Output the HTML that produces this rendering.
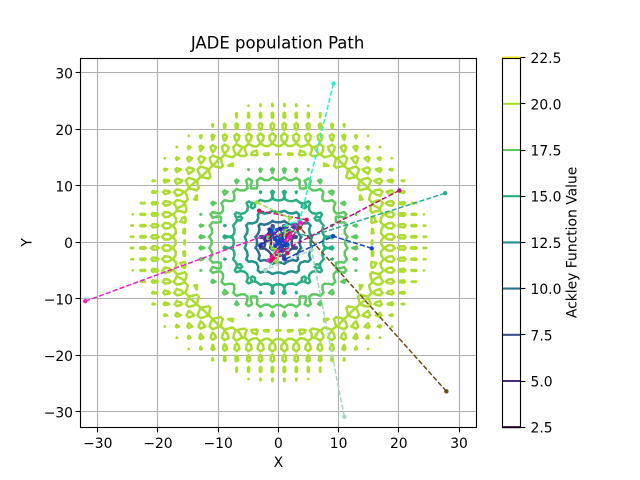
<!DOCTYPE html>
<html>
<head>
<meta charset="utf-8">
<title>JADE population Path</title>
<style>
html,body{margin:0;padding:0;background:#fff;width:640px;height:480px;overflow:hidden}
svg{display:block}
text{font-family:"DejaVu Sans","Liberation Sans",sans-serif;fill:#000}
</style>
</head>
<body>
<svg id="chart" width="640" height="480" viewBox="0 0 640 480" xmlns="http://www.w3.org/2000/svg">
  <defs>
    <clipPath id="plot-clip"><rect x="80" y="58" width="397" height="369"></rect></clipPath>
  </defs>
  <rect x="0" y="0" width="640" height="480" fill="#fff"></rect>
  <g id="grid"></g>
  <g id="contours" clip-path="url(#plot-clip)"></g>
  <g id="paths" clip-path="url(#plot-clip)"></g>
  <g id="axes"></g>
  <g id="cbar"></g>
  <text x="277.6" y="48.5" font-size="16.5" text-anchor="middle">JADE population Path</text>
  <text x="278.4" y="467" font-size="13.89" text-anchor="middle">X</text>
  <text transform="translate(31.5,242.4) rotate(-90)" font-size="13.89" text-anchor="middle">Y</text>
  <text transform="translate(576.5,242.4) rotate(-90)" font-size="13.89" text-anchor="middle">Ackley Function Value</text>
</svg>
<script>
const xTicks = [-30, -20, -10, 0, 10, 20, 30];
const yTicks = [-30, -20, -10, 0, 10, 20, 30];
const contourLevels = [2.5, 5, 7.5, 10, 12.5, 15, 17.5, 20, 22.5];
const levelColors = ['#440154', '#472d7b', '#3b528b', '#2c728e', '#21918c', '#28ae80', '#5ec962', '#addc30', '#fde725'];
const gridBound = 32.768;
const gridCount = 100;

const paleX = [10.95, 5.5, -2.2, 1.5, -0.6, 0.3, 0];
const paleY = [-30.85, -1.3, -4.9, -1.2, 1.0, -0.3, 0.1];
const tealX = [27.7, 5.1, 1.2, -1.0, 0.6, 0.1];
const tealY = [8.7, 1.0, 2.4, -1.1, 0.4, 0];
const oliveX = [27.9, 3.6, 0.5, -1.4, 0.4, -0.1];
const oliveY = [-26.35, 2.6, 0.9, 1.3, -0.5, 0.1];
const cyanX = [9.15, 3.6, -0.9, 1.6, -0.4, 0.2];
const cyanY = [28.1, 4.0, 2.2, -0.6, 0.9, -0.1];
const darkPinkX = [20.1, -1.1, 1.8, -2.0, 0.8, -0.2];
const darkPinkY = [9.2, -2.5, 1.6, 0.5, -1.3, 0.2];
const magentaX = [-32.07, 3.6, -1.6, 1.9, -0.8, 0.4, 0];
const magentaY = [-10.4, 3.5, -3.2, 0.9, 1.5, -0.6, 0];
const crimsonX = [-3.2, 4.7, -1.1, 1.5, -1.0, 0.5, 0.1];
const crimsonY = [5.6, 4.0, -3.1, -1.9, 1.2, -0.5, 0.1];
const greenX = [-3.6, 1.9, -0.3, -1.7, 1.3, -0.6, 0.2];
const greenY = [7.1, 4.3, -3.4, 0.8, 2.0, -1.1, -0.1];
const slateX = [-3.0, 2.6, -1.5, 0.7, 0.1];
const slateY = [-0.5, 2.7, 2.3, -1.5, 0.2];
const navyX = [-1.4, -3.0, 0.3, 1.2, 0.4, 0.2];
const navyY = [2.2, -0.6, 2.4, -0.5, 0.5, 0];
const blueX = [15.5, 9.1, 1.1, -1.2, 1.5, 0.2, 0.7, -0.6, 0.6, -0.5, 0.25];
const blueY = [-1.05, 1.1, -3.0, 1.9, -0.4, 0.3, -0.6, 0.6, 0.6, -0.6, 0];

const seriesNames = ['pale', 'teal', 'olive', 'cyan', 'dark-pink', 'magenta', 'crimson', 'green', 'slate', 'navy', 'blue'];
const seriesXs = [paleX, tealX, oliveX, cyanX, darkPinkX, magentaX, crimsonX, greenX, slateX, navyX, blueX];
const seriesYs = [paleY, tealY, oliveY, cyanY, darkPinkY, magentaY, crimsonY, greenY, slateY, navyY, blueY];
const seriesColors = ['#a3d6c6', '#28ad90', '#6b4e12', '#1ff5d0', '#c0107c', '#f01fc4', '#d4145f', '#8fe33c', '#3d4aa0', '#2a2fa8', '#1646c4'];

const NS = 'http://www.w3.org/2000/svg';
const plotLeft = 80, plotRight = 476.8, plotTop = 57.6, plotBottom = 427.2;
const xHalf = 32.95, yHalf = 32.7;
function xScale(v) { return (plotLeft + plotRight) / 2 + v * (plotRight - plotLeft) / (2 * xHalf); }
function yScale(v) { return (plotTop + plotBottom) / 2 - v * (plotBottom - plotTop) / (2 * yHalf); }
const cbarLeft = 502.3, cbarRight = 520.3;
function cbarScale(v) { return plotBottom - (v - contourLevels[0]) / (contourLevels[contourLevels.length - 1] - contourLevels[0]) * (plotBottom - plotTop); }
function snap(v) { return Math.floor(v) + 0.5; }
function fmt(v) { return String(v).replace('-', '\u2212'); }
function make(tag, attrs, parent) {
  const el = document.createElementNS(NS, tag);
  for (const k in attrs) el.setAttribute(k, attrs[k]);
  parent.appendChild(el);
  return el;
}

function ackley(x, y) {
  return -20 * Math.exp(-0.2 * Math.sqrt(0.5 * (x * x + y * y)))
    - Math.exp(0.5 * (Math.cos(2 * Math.PI * x) + Math.cos(2 * Math.PI * y))) + Math.E + 20;
}

const gridLayer = document.getElementById('grid');
const axesLayer = document.getElementById('axes');
xTicks.forEach(function (t) {
  const px = snap(xScale(t));
  const g = make('line', { x1: px, x2: px, y1: plotTop, y2: plotBottom, stroke: '#b0b0b0', 'stroke-width': 1.11 }, gridLayer);
  
  
  const m = make('line', { x1: px, x2: px, y1: 427.5, y2: 432.4, stroke: '#000', 'stroke-width': 1.11 }, axesLayer);
  
  
  const l = make('text', { x: xScale(t), y: 448, 'font-size': 13.89, 'text-anchor': 'middle' }, axesLayer);
  
  
  l.textContent = fmt(t);
});
yTicks.forEach(function (t) {
  const py = snap(yScale(t));
  const g = make('line', { x1: plotLeft, x2: plotRight, y1: py, y2: py, stroke: '#b0b0b0', 'stroke-width': 1.11 }, gridLayer);
  
  
  const m = make('line', { x1: 75.6, x2: 80.5, y1: py, y2: py, stroke: '#000', 'stroke-width': 1.11 }, axesLayer);
  
  
  const l = make('text', { x: 73, y: yScale(t) + 5.5, 'font-size': 13.89, 'text-anchor': 'end' }, axesLayer);
  
  
  l.textContent = fmt(t);
});
const frame = make('rect', { x: 80.5, y: 58.5, width: 396, height: 369, fill: 'none', stroke: '#000', 'stroke-width': 1.11 }, axesLayer);



/* contours: marching squares over the Ackley surface */
const samples = [];
for (let j = 0; j < gridCount; j++) {
  const row = [];
  for (let i = 0; i < gridCount; i++) {
    row.push(ackley(-gridBound + 2 * gridBound * i / (gridCount - 1), -gridBound + 2 * gridBound * j / (gridCount - 1)));
  }
  samples.push(row);
}
function gridX(i) { return xScale(-gridBound + 2 * gridBound * i / (gridCount - 1)); }
function gridY(j) { return yScale(-gridBound + 2 * gridBound * j / (gridCount - 1)); }
const contourLayer = document.getElementById('contours');
contourLevels.forEach(function (lv, idx) {
  let d = '';
  for (let j = 0; j < gridCount - 1; j++) {
    for (let i = 0; i < gridCount - 1; i++) {
      const a = samples[j][i], b = samples[j][i + 1], c = samples[j + 1][i + 1], e = samples[j + 1][i];
      const code = (a > lv ? 1 : 0) | (b > lv ? 2 : 0) | (c > lv ? 4 : 0) | (e > lv ? 8 : 0);
      if (code === 0 || code === 15) continue;
      const bottom = [gridX(i + (lv - a) / (b - a)), gridY(j)];
      const right = [gridX(i + 1), gridY(j + (lv - b) / (c - b))];
      const top = [gridX(i + (lv - e) / (c - e)), gridY(j + 1)];
      const left = [gridX(i), gridY(j + (lv - a) / (e - a))];
      const segs = [];
      if (code === 1 || code === 14) segs.push([left, bottom]);
      else if (code === 2 || code === 13) segs.push([bottom, right]);
      else if (code === 3 || code === 12) segs.push([left, right]);
      else if (code === 4 || code === 11) segs.push([right, top]);
      else if (code === 6 || code === 9) segs.push([bottom, top]);
      else if (code === 7 || code === 8) segs.push([left, top]);
      else {
        const mid = (a + b + c + e) / 4 > lv;
        if ((code === 5) === mid) { segs.push([left, top]); segs.push([bottom, right]); }
        else { segs.push([left, bottom]); segs.push([right, top]); }
      }
      segs.forEach(function (s) {
        d += 'M' + s[0][0].toFixed(2) + ' ' + s[0][1].toFixed(2) + 'L' + s[1][0].toFixed(2) + ' ' + s[1][1].toFixed(2);
      });
    }
  }
  if (d) {
    const p = make('path', { d: d, fill: 'none', stroke: levelColors[idx], 'stroke-width': 2.5, 'stroke-linecap': 'round', 'stroke-linejoin': 'round' }, contourLayer);
    
    
  }
});

/* population paths */
const pathLayer = document.getElementById('paths');
seriesNames.forEach(function (name, s) {
  const xs = seriesXs[s], ys = seriesYs[s];
  let pts = '';
  xs.forEach(function (x, i) { pts += xScale(x).toFixed(2) + ',' + yScale(ys[i]).toFixed(2) + ' '; });
  const line = make('polyline', { points: pts, fill: 'none', stroke: seriesColors[s], 'stroke-width': 1.5, 'stroke-dasharray': '5.1 2.2' }, pathLayer);
  
  
  xs.forEach(function (x, i) {
    const dot = make('circle', { cx: xScale(x), cy: yScale(ys[i]), r: 2.2, fill: seriesColors[s] }, pathLayer);
    
    
  });
});

/* colorbar */
const cbarLayer = document.getElementById('cbar');
const cbg = make('rect', { x: cbarLeft, y: plotTop, width: cbarRight - cbarLeft, height: plotBottom - plotTop, fill: '#fff' }, cbarLayer);


contourLevels.forEach(function (lv, idx) {
  const py = cbarScale(lv);
  const l = make('line', { x1: cbarLeft, x2: cbarRight, y1: py, y2: py, stroke: levelColors[idx], 'stroke-width': 2.08 }, cbarLayer);
  
  
});
const cframe = make('rect', { x: 502.5, y: 58.5, width: 18, height: 369, fill: 'none', stroke: '#000', 'stroke-width': 1.11 }, cbarLayer);


contourLevels.forEach(function (lv) {
  const py = snap(cbarScale(lv));
  const m = make('line', { x1: 520.5, x2: 525.4, y1: py, y2: py, stroke: '#000', 'stroke-width': 1.11 }, cbarLayer);
  
  
  const t = make('text', { x: 530.5, y: cbarScale(lv) + 5.5, 'font-size': 13.89 }, cbarLayer);
  
  
  t.textContent = lv.toFixed(1);
});
</script>
</body>
</html>
